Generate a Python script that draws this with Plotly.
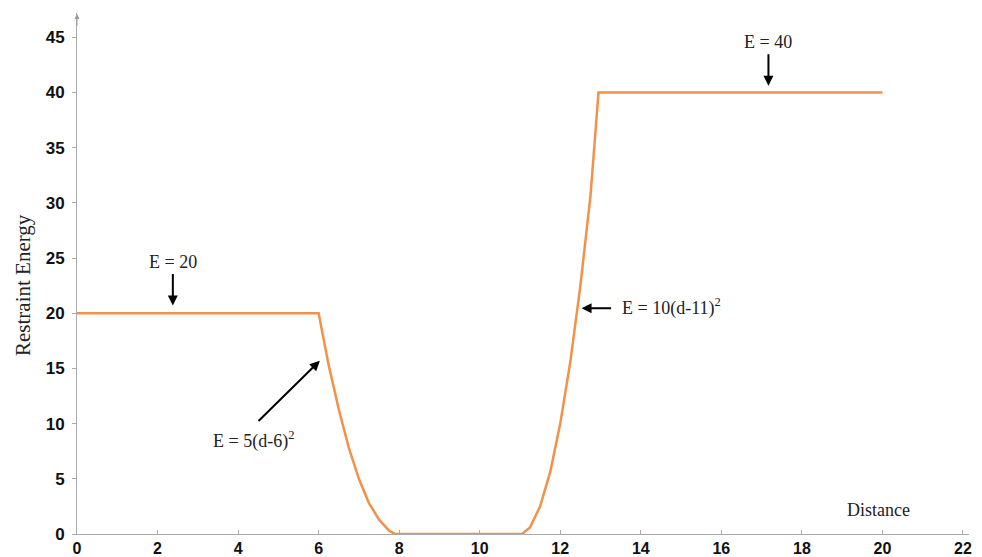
import plotly.graph_objects as go

# Distance (d) and restraint energy (E)
distance = [0, 2, 4, 6, 6.25, 6.5, 6.75, 7.0, 7.25, 7.5, 7.75, 7.9,
            9, 10, 11.05, 11.25, 11.5, 11.75, 12.0, 12.25, 12.5, 12.75, 12.95,
            14, 16, 18, 20]
energy = [20, 20, 20, 20, 15.3, 11.3, 7.8, 5.0, 2.8, 1.3, 0.3, 0,
          0, 0, 0, 0.6, 2.5, 5.6, 10.0, 15.6, 22.5, 30.6, 40,
          40, 40, 40, 40]

x_ticks = [0, 2, 4, 6, 8, 10, 12, 14, 16, 18, 20, 22]
y_ticks = [0, 5, 10, 15, 20, 25, 30, 35, 40, 45]

serif = "Liberation Serif, Times New Roman, serif"
tickfam = "Liberation Sans Narrow, Arial Narrow, Liberation Sans, Arial, sans-serif"

fig = go.Figure()
fig.add_trace(go.Scatter(x=distance, y=energy, mode="lines",
                         line=dict(color="#F2914A", width=2.5), showlegend=False,
                         hoverinfo="skip"))

# text labels: (text, x, y)
labels = [
    ("E = 20", 2.38, 24.6),
    ("E = 5(d-6)<sup>2</sup>", 4.39, 8.5),
    ("E = 10(d-11)<sup>2</sup>", 14.75, 20.6),
    ("E = 40", 17.15, 44.6),
    ("Distance", 19.9, 2.2),
]
for t, x, y in labels:
    fig.add_annotation(x=x, y=y, text=t, showarrow=False,
                       font=dict(family=serif, size=18, color="#222"))

# arrows: (tail_x, tail_y, head_x, head_y)
arrows = [
    (2.38, 23.7, 2.38, 20.7),
    (4.47, 10.1, 6.03, 15.7),
    (13.3, 20.45, 12.53, 20.45),
    (17.17, 43.6, 17.17, 40.6),
]
for tx, ty, hx, hy in arrows:
    fig.add_annotation(x=hx, y=hy, ax=tx, ay=ty, xref="x", yref="y",
                       axref="x", ayref="y", text="", showarrow=True,
                       arrowhead=2, arrowsize=1, arrowwidth=2, arrowcolor="black")

# y axis arrow tip
fig.add_annotation(x=0, y=47.1, ax=0, ay=45.9, xref="x", yref="y",
                   axref="x", ayref="y", text="", showarrow=True,
                   arrowhead=2, arrowsize=1, arrowwidth=1, arrowcolor="#999")

# y axis title
fig.add_annotation(x=-0.0605, y=0.478, xref="paper", yref="paper",
                   text="Restraint Energy", textangle=-90, showarrow=False,
                   xanchor="center", yanchor="middle",
                   font=dict(family=serif, size=21, color="#222"))

# the page adds an 8px body margin, so the figure is 8px smaller than the window
fig.update_layout(
    width=974, height=549,
    margin=dict(l=69, r=13, t=5, b=23, autoexpand=False),
    plot_bgcolor="white", paper_bgcolor="white",
    xaxis=dict(range=[0, 22.15], tickvals=x_ticks, ticktext=[str(v) for v in x_ticks],
               automargin=False,
               showgrid=False, zeroline=False, showline=True, linecolor="#aaa",
               linewidth=1, ticks="inside", ticklen=4, tickcolor="#aaa",
               ticklabelstandoff=0,
               tickfont=dict(family=tickfam, size=16, color="#111", weight="bold")),
    yaxis=dict(range=[0, 47.2], tickvals=y_ticks, ticktext=[str(v) for v in y_ticks],
               automargin=False,
               showgrid=False, zeroline=False, showline=True, linecolor="#aaa",
               linewidth=1, ticks="outside", ticklen=4, tickcolor="#aaa",
               ticklabelstandoff=4,
               tickfont=dict(family=tickfam, size=17, color="#111", weight="bold")),
)

fig.write_html("out.html")
